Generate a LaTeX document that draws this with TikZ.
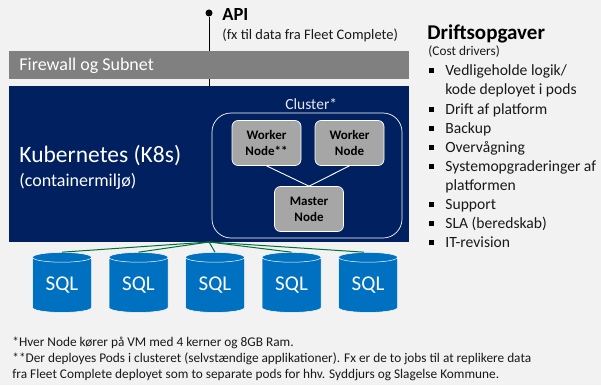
\documentclass[tikz,border=0pt]{standalone}
\usepackage{fontspec}
\setmainfont{Carlito}
\usetikzlibrary{positioning,shapes.geometric}
\definecolor{pagegray}{HTML}{F2F2F2}
\definecolor{k8sblue}{HTML}{002060}
\definecolor{bargray}{HTML}{808080}
\definecolor{nodegray}{HTML}{A6A6A6}
\definecolor{sqlblue}{HTML}{0070C0}
\definecolor{linkgreen}{HTML}{00703C}
\begin{document}
\begin{tikzpicture}[x=1pt, y=1pt, thick, font=\fontsize{13.3}{16}\selectfont]
        \tikzstyle{workernode} = [rectangle, draw=white, fill=nodegray, rounded corners=6pt, line width=0.7pt,
                            minimum width=69pt, minimum height=45pt, align=center, inner sep=0pt,
                            font=\fontsize{13}{16}\selectfont\bfseries, text=black]
        \tikzstyle{sqlnode} = [cylinder, shape border rotate=90, aspect=0.3, draw=white, fill=sqlblue, line width=0.5pt,
                            minimum width=59pt, minimum height=60pt, inner sep=0pt, text=white,
                            font=\fontsize{21}{24}\selectfont]
        \tikzstyle{sqllink} = [linkgreen, line width=1pt]
        \tikzstyle{plaintext} = [anchor=base west, inner sep=0pt, align=left, text=black!90]

        % Baggrund
        \useasboundingbox[fill=pagegray] (0,0) rectangle (601,-385);

        % Blokke
        \node[rectangle, fill=bargray, minimum width=400pt, minimum height=28pt, inner sep=0pt] (firewall) at (209,-65) {};
        \node[plaintext, text=white, font=\fontsize{18}{21}\selectfont] (firewalltext) at (19,-71) {Firewall og Subnet};
        \node[rectangle, fill=k8sblue, minimum width=400pt, minimum height=156pt, inner sep=0pt] (k8s) at (209,-164) {};
        \node[plaintext, text=white, font=\fontsize{23.5}{28}\selectfont] (k8stext) at (19,-162) {Kubernetes (K8s)};
        \node[plaintext, text=white, font=\fontsize{18}{21}\selectfont] (k8ssub) at (19,-186) {(containermiljø)};

        % Cluster
        \node[rectangle, draw=white, rounded corners=19pt, line width=0.7pt, minimum width=190pt, minimum height=125pt, inner sep=0pt] (cluster) at (307,-175.5) {};
        \node[plaintext, text=white!90!k8sblue, font=\fontsize{15.5}{18}\selectfont] (clustertext) at (285,-110) {Cluster*};
        \node[workernode] (worker1) at (266.5,-143) {Worker\\Node**};
        \node[workernode] (worker2) at (349.5,-143) {Worker\\Node};
        \node[workernode] (master) at (309,-209) {Master\\Node};
        \draw[white, line width=0.9pt] (worker1.south) -- (master.north);
        \draw[white, line width=0.9pt] (worker2.south) -- (master.north);

        % API
        \node[circle, fill=black, minimum size=7pt, inner sep=0pt] (apidot) at (209,-13) {};
        \draw[line width=1pt] (apidot) -- (apidot |- firewall.north);
        \draw[line width=1pt] (apidot |- firewall.south) -- (apidot |- k8s.north);
        \node[plaintext, text=black, font=\fontsize{18.5}{22}\selectfont\bfseries] (api) at (222,-21) {API};
        \node[plaintext, font=\fontsize{14.5}{17}\selectfont] (apisub) at (222,-40) {(fx til data fra Fleet Complete)};

        % Databaser
        \node[sqlnode] (sql1) at (62,-285) {\raisebox{-6pt}{SQL}};
        \node[sqlnode, right=17pt of sql1] (sql2) {\raisebox{-6pt}{SQL}};
        \node[sqlnode, right=17pt of sql2] (sql3) {\raisebox{-6pt}{SQL}};
        \node[sqlnode, right=17pt of sql3] (sql4) {\raisebox{-6pt}{SQL}};
        \node[sqlnode, right=17pt of sql4] (sql5) {\raisebox{-6pt}{SQL}};

        % Forbindelser
        \coordinate (hub) at (209,-242);
        \draw[sqllink] (hub) -- (sql1.north);
        \draw[sqllink] (hub) -- (sql2.north);
        \draw[sqllink] (hub) -- (sql3.north);
        \draw[sqllink] (hub) -- (sql4.north);
        \draw[sqllink] (hub) -- ([xshift=-4pt]sql5.north);

        % Driftsopgaver
        \node[plaintext, text=black, font=\fontsize{21}{25}\selectfont\bfseries] (drift) at (427,-40) {Driftsopgaver};
        \node[plaintext, font=\fontsize{13.3}{16}\selectfont] (cost) at (428,-56) {(Cost drivers)};
        \foreach \txt [count=\i from 0] in {Vedligeholde logik/, kode deployet i pods, Drift af platform, Backup, Overvågning,
                Systemopgraderinger af, platformen, Support, SLA (beredskab), IT-revision}
            \node[plaintext, font=\fontsize{15.6}{19}\selectfont] (task\i) at (445,-76-19*\i) {\txt};
        \foreach \i in {0,2,3,4,5,7,8,9}
            \node[rectangle, fill=black, minimum size=5pt, inner sep=0pt] (bullet\i) at (431.5,-71-19*\i) {};

        % Noter
        \node[plaintext] (note1) at (12,-346) {*Hver Node kører på VM med 4 kerner og 8GB Ram.};
        \node[plaintext] (note2) at (12,-362) {**Der deployes Pods i clusteret (selvstændige applikationer). Fx er de to jobs til at replikere data};
        \node[plaintext] (note3) at (12,-378) {fra Fleet Complete deployet som to separate pods for hhv. Syddjurs og Slagelse Kommune.};
\end{tikzpicture}
\end{document}
